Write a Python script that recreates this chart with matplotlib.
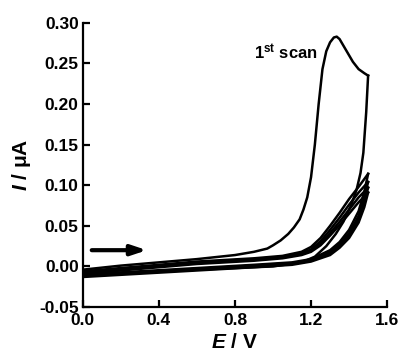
import matplotlib
matplotlib.use("Agg")
import matplotlib.pyplot as plt

plt.rcParams['font.family'] = ['Liberation Sans', 'DejaVu Sans']
plt.rcParams['mathtext.fontset'] = 'custom'
plt.rcParams['mathtext.rm'] = 'Liberation Sans:bold'
plt.rcParams['mathtext.bf'] = 'Liberation Sans:bold'
plt.rcParams['mathtext.it'] = 'Liberation Sans:bold:italic'

# ---- data ----
# 1st scan
scan1_fwd_E = [0.0, 0.2, 0.4, 0.6, 0.8, 0.9, 0.97, 1.0, 1.04, 1.08, 1.11, 1.14, 1.16, 1.18,
               1.2, 1.22, 1.24, 1.26, 1.28, 1.3, 1.32, 1.335, 1.35, 1.37, 1.39, 1.42, 1.45, 1.48, 1.5]
scan1_fwd_I = [-0.004, 0.001, 0.005, 0.009, 0.014, 0.018, 0.022, 0.026, 0.032, 0.040, 0.048, 0.058,
               0.070, 0.085, 0.110, 0.150, 0.200, 0.243, 0.265, 0.276, 0.282, 0.283, 0.280, 0.272,
               0.264, 0.252, 0.243, 0.238, 0.235]
scan1_rev_E = [1.5, 1.49, 1.475, 1.46, 1.44, 1.41, 1.37, 1.33, 1.28, 1.22, 1.15, 1.0, 0.6, 0.2, 0.0]
scan1_rev_I = [0.235, 0.19, 0.14, 0.115, 0.095, 0.075, 0.055, 0.04, 0.025, 0.012, 0.005, 0.0,
               -0.004, -0.008, -0.010]

# later scans (2nd-5th)
fwd_E = [0.0, 0.3, 0.6, 0.9, 1.05, 1.15, 1.2, 1.25, 1.3, 1.35, 1.4, 1.45, 1.5]
scan2_fwd_I = [-0.006, 0.000, 0.006, 0.010, 0.013, 0.018, 0.024, 0.035, 0.050, 0.066, 0.083, 0.098, 0.114]
scan3_fwd_I = [-0.007, -0.001, 0.005, 0.009, 0.012, 0.016, 0.021, 0.031, 0.045, 0.060, 0.076, 0.091, 0.104]
scan4_fwd_I = [-0.008, -0.002, 0.004, 0.008, 0.011, 0.015, 0.019, 0.028, 0.041, 0.055, 0.070, 0.085, 0.097]
scan5_fwd_I = [-0.009, -0.003, 0.003, 0.007, 0.010, 0.014, 0.018, 0.026, 0.038, 0.051, 0.065, 0.079, 0.091]

rev_E = [1.5, 1.48, 1.45, 1.4, 1.35, 1.3, 1.2, 1.1, 0.9, 0.6, 0.3, 0.0]
scan2_rev_I = [0.114, 0.092, 0.068, 0.045, 0.030, 0.020, 0.009, 0.005, 0.002, -0.002, -0.006, -0.010]
scan3_rev_I = [0.104, 0.084, 0.062, 0.041, 0.027, 0.018, 0.008, 0.004, 0.001, -0.003, -0.007, -0.011]
scan4_rev_I = [0.097, 0.078, 0.058, 0.038, 0.025, 0.016, 0.007, 0.003, 0.000, -0.004, -0.008, -0.012]
scan5_rev_I = [0.091, 0.073, 0.054, 0.035, 0.023, 0.014, 0.006, 0.002, -0.001, -0.005, -0.009, -0.013]

xticks = [0.0, 0.4, 0.8, 1.2, 1.6]
yticks = [-0.05, 0.00, 0.05, 0.10, 0.15, 0.20, 0.25, 0.30]

fig = plt.figure(figsize=(4.02, 3.57), dpi=100)
ax = fig.add_axes([0.206, 0.14, 0.757, 0.796])

lw = 1.8
ax.plot(scan1_fwd_E, scan1_fwd_I, color='black', lw=lw)
ax.plot(scan1_rev_E, scan1_rev_I, color='black', lw=lw)
for f, r in [(scan2_fwd_I, scan2_rev_I), (scan3_fwd_I, scan3_rev_I),
             (scan4_fwd_I, scan4_rev_I), (scan5_fwd_I, scan5_rev_I)]:
    ax.plot(fwd_E, f, color='black', lw=lw)
    ax.plot(rev_E, r, color='black', lw=lw)

ax.set_xlim(0.0, 1.6)
ax.set_ylim(-0.05, 0.30)
ax.set_xticks(xticks)
ax.set_xticklabels([f"{v:.1f}" for v in xticks])
ax.set_yticks(yticks)
ax.set_yticklabels([f"{v:.2f}" for v in yticks])

for s in ['top', 'right']:
    ax.spines[s].set_visible(False)
for s in ['left', 'bottom']:
    ax.spines[s].set_linewidth(1.6)
ax.tick_params(direction='in', length=5, width=1.6, labelsize=12.5)
ax.tick_params(axis='x', pad=4)
ax.tick_params(axis='y', pad=3)
for lab in ax.get_xticklabels() + ax.get_yticklabels():
    lab.set_fontweight('bold')

ax.set_xlabel(r'$\mathit{E}$ / V', fontsize=15, fontweight='bold', labelpad=4)
ax.set_ylabel(r'$\mathit{I}$ / $\mathbf{\mu}$A', fontsize=15, fontweight='bold', labelpad=4)

ax.text(0.9, 0.264, r'1$^{\mathbf{st}}$ scan', fontsize=12, fontweight='bold',
        ha='left', va='center')

ax.annotate('', xy=(0.337, 0.020), xytext=(0.047, 0.020),
            arrowprops=dict(arrowstyle='-|>,head_length=0.9,head_width=0.3',
                            color='black', lw=3, shrinkA=0, shrinkB=0))

fig.savefig('out.png', dpi=100)
